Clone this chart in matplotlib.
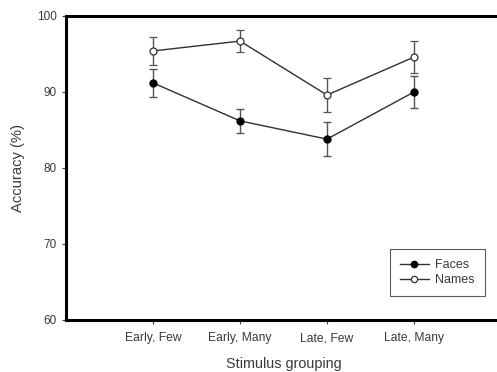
import matplotlib
matplotlib.use("Agg")
import matplotlib.pyplot as plt
from matplotlib.lines import Line2D

categories = ["Early, Few", "Early, Many", "Late, Few", "Late, Many"]
faces = [91.2, 86.2, 83.8, 90.0]
faces_err = [1.8, 1.55, 2.2, 2.05]
names = [95.4, 96.7, 89.6, 94.6]
names_err = [1.9, 1.5, 2.25, 2.05]

plt.rcParams['font.family'] = ['Liberation Sans', 'DejaVu Sans']
fig = plt.figure(figsize=(4.97, 3.72), dpi=100)
ax = fig.add_axes([66/497, 1-320/372, (501-66)/497, (320-16)/372])

x = list(range(1, len(categories)+1))
lc = '#303030'
ax.errorbar(x, faces, yerr=faces_err, color=lc, lw=1.0, marker='o', ms=5,
            mfc='black', mec='black', ecolor='#555555', elinewidth=1.0, capsize=3,
            capthick=1.0, zorder=3)
ax.errorbar(x, names, yerr=names_err, color=lc, lw=1.0, marker='o', ms=5,
            mfc='white', mec='#303030', mew=0.9, ecolor='#555555', elinewidth=1.0,
            capsize=3, capthick=1.0, zorder=3)

ax.set_xlim(0, 5)
ax.set_ylim(60, 100)
ax.set_xticks(x)
ax.set_xticklabels(categories, fontsize=8.7, color='#3a3a3a')
ax.set_yticks([60, 70, 80, 90, 100])
ax.tick_params(axis='y', labelsize=8.5, colors='#3a3a3a', length=3, width=0.8, direction='out')
ax.tick_params(axis='x', length=3, width=0.8, direction='out', colors='#3a3a3a', pad=6)
for s in ['left', 'bottom', 'top']:
    ax.spines[s].set_linewidth(2.2)
    ax.spines[s].set_color('black')
ax.spines['right'].set_visible(False)

ax.set_xlabel('Stimulus grouping', fontsize=10.4, color='#3a3a3a', labelpad=9)
ax.set_ylabel('Accuracy (%)', fontsize=10.6, color='#3a3a3a')
ax.yaxis.set_label_coords(-(66-25)/435, 0.5)

handles = [
    Line2D([], [], color=lc, lw=1.0, marker='o', ms=4.5, mfc='black', mec='black'),
    Line2D([], [], color=lc, lw=1.0, marker='o', ms=4.5, mfc='white', mec='#303030', mew=0.9),
]
leg = ax.legend(handles, ['Faces', 'Names'], loc='upper left',
                bbox_to_anchor=(390/497, 1-249/372),
                bbox_transform=fig.transFigure, fontsize=9, frameon=True,
                fancybox=False, edgecolor='#333333', handlelength=2.3,
                handletextpad=0.5, borderpad=0.8, labelspacing=0.25, borderaxespad=0)
leg.get_frame().set_linewidth(0.8)
for t in leg.get_texts():
    t.set_color('#3a3a3a')

fig.savefig('out.png', dpi=100)
